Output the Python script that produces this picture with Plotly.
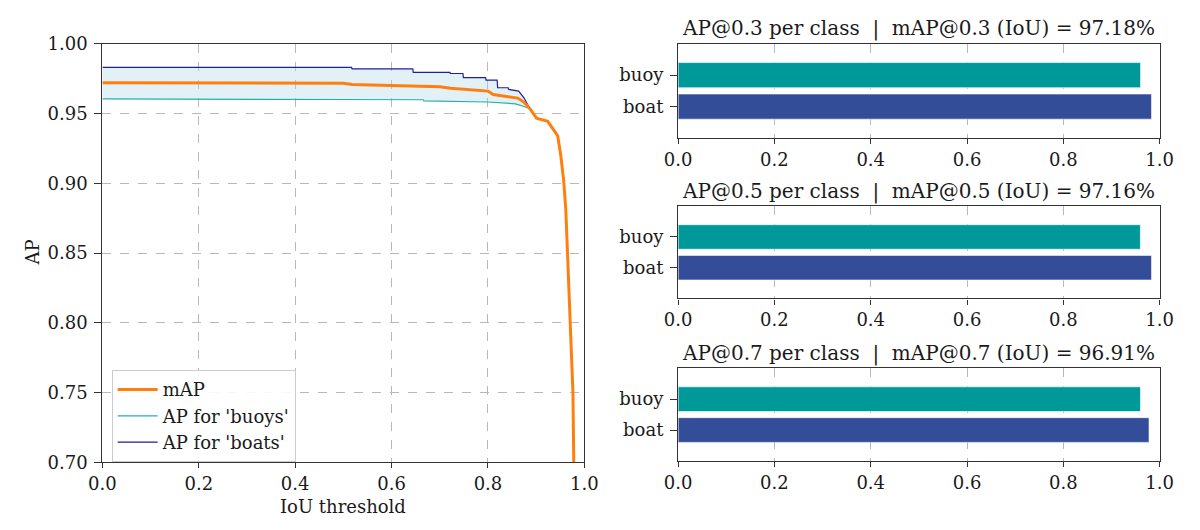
import plotly.graph_objects as go

# ---- AP vs IoU threshold curves ----
iou_boats = [0.0, 0.517, 0.518, 0.644, 0.645, 0.721, 0.722, 0.748, 0.749, 0.795, 0.796,
             0.819, 0.820, 0.842, 0.843, 0.8636, 0.875, 0.887, 0.9007, 0.9176, 0.924,
             0.938, 0.9446, 0.951, 0.957, 0.9615, 0.965, 0.9716, 0.9763, 0.978, 0.985, 1.0]
ap_boats = [0.9830, 0.9830, 0.9819, 0.9819, 0.9794, 0.9794, 0.9786, 0.9786, 0.9757, 0.9757, 0.9739,
            0.9739, 0.9684, 0.9684, 0.9672, 0.9660, 0.9610, 0.9534, 0.9466, 0.9450, 0.9443,
            0.9374, 0.9340, 0.9200, 0.9020, 0.8810, 0.8500, 0.8000, 0.7500, 0.7000, 0.5500, 0.0]

iou_buoys = [0.0, 0.30, 0.50, 0.666, 0.667, 0.80, 0.857, 0.875, 0.887, 0.9007, 0.9176, 0.924,
             0.938, 0.9446, 0.951, 0.957, 0.9615, 0.965, 0.9716, 0.9763, 0.978, 0.985, 1.0]
ap_buoys = [0.9604, 0.9604, 0.9600, 0.9598, 0.9590, 0.9582, 0.9569, 0.9550, 0.9534, 0.9466, 0.9450, 0.9443,
            0.9374, 0.9340, 0.9200, 0.9020, 0.8810, 0.8500, 0.8000, 0.7500, 0.7000, 0.5500, 0.0]

iou_map = [0.0, 0.30, 0.50, 0.518, 0.645, 0.70, 0.7226, 0.757, 0.80, 0.811, 0.85, 0.862, 0.875,
           0.887, 0.9007, 0.9176, 0.924, 0.938, 0.9446, 0.951, 0.957, 0.9615, 0.965, 0.9716,
           0.9763, 0.978, 0.985, 1.0]
map_vals = [0.9720, 0.9718, 0.9716, 0.9708, 0.9693, 0.9691, 0.9680, 0.9672, 0.9660, 0.9635, 0.9620,
            0.9610, 0.9580, 0.9534, 0.9466, 0.9450, 0.9443, 0.9374, 0.9340, 0.9200, 0.9020, 0.8810,
            0.8500, 0.8000, 0.7500, 0.7000, 0.5500, 0.0]

# ---- per-class AP at selected IoU thresholds ----
classes = ["boat", "buoy"]
thresholds = ["0.3", "0.5", "0.7"]
map_at = [97.18, 97.16, 96.91]
ap_boat_at = [0.9832, 0.9832, 0.9780]
ap_buoy_at = [0.9604, 0.9600, 0.9602]

FONT = "DejaVu Serif"
FS = 18
TXT = "#1a1a1a"
SPINE = "#333333"
GRID = "#b8b8b8"
ORANGE = "#ff7f0e"
TEAL_LINE = "#20b2aa"
NAVY_LINE = "#1f1f9a"
BUOY_BAR = "#009999"
BOAT_BAR = "#334d99"
NB = "\u00a0"

fig = go.Figure()

# shaded band between the two class curves
fig.add_trace(go.Scatter(x=iou_buoys, y=ap_buoys, mode="lines", line=dict(width=0),
                         hoverinfo="skip", showlegend=False, xaxis="x", yaxis="y"))
fig.add_trace(go.Scatter(x=iou_boats, y=ap_boats, mode="lines", line=dict(width=0),
                         fill="tonexty", fillcolor="rgba(173,216,230,0.35)",
                         hoverinfo="skip", showlegend=False, xaxis="x", yaxis="y"))

fig.add_trace(go.Scatter(x=iou_buoys, y=ap_buoys, mode="lines", name="AP for 'buoys'",
                         line=dict(color=TEAL_LINE, width=1.2), legendrank=2,
                         xaxis="x", yaxis="y"))
fig.add_trace(go.Scatter(x=iou_boats, y=ap_boats, mode="lines", name="AP for 'boats'",
                         line=dict(color=NAVY_LINE, width=1.2), legendrank=3,
                         xaxis="x", yaxis="y"))
fig.add_trace(go.Scatter(x=iou_map, y=map_vals, mode="lines", name="mAP",
                         line=dict(color=ORANGE, width=3), legendrank=1,
                         xaxis="x", yaxis="y"))

# bar subplots
bar_dom_x = [680 / 1200, 1173 / 1200]
bar_dom_y = [[1 - 132.3 / 530, 1 - 34 / 530],
             [1 - 299.3 / 530, 1 - 203.3 / 530],
             [1 - 468.5 / 530, 1 - 372 / 530]]
title_y = [18.5, 188, 357]

spine_style = dict(showline=True, linecolor=SPINE, linewidth=1.2, mirror=True,
                   ticks="outside", tickcolor=SPINE, zeroline=False,
                   tickfont=dict(family=FONT, size=FS, color=TXT))
x_ticks = dict(ticklen=5, ticklabelstandoff=0, **spine_style)
y_ticks = dict(ticklen=7, ticklabelstandoff=3, **spine_style)

layout = dict(
    width=1200, height=530,
    margin=dict(l=0, r=0, t=0, b=0),
    paper_bgcolor="white", plot_bgcolor="white",
    font=dict(family=FONT, size=FS, color=TXT),
    xaxis=dict(domain=[90.5 / 1200, 584 / 1200], range=[0, 1], tickvals=[0, 0.2, 0.4, 0.6, 0.8, 1.0],
               ticktext=["0.0", "0.2", "0.4", "0.6", "0.8", "1.0"], showgrid=True,
               gridcolor=GRID, griddash="dash", gridwidth=1, anchor="y", **x_ticks),
    yaxis=dict(domain=[1 - 470 / 530, 1 - 34 / 530], range=[0.70, 1.00],
               tickvals=[0.70, 0.75, 0.80, 0.85, 0.90, 0.95, 1.00],
               ticktext=["0.70", "0.75", "0.80", "0.85", "0.90", "0.95", "1.00"],
               showgrid=True, gridcolor=GRID, griddash="dash", gridwidth=1, anchor="x",
               **y_ticks),
    legend=dict(x=100 / 1200, y=1 - 374 / 530, xanchor="left", yanchor="top",
                traceorder="normal",
                bgcolor="rgba(255,255,255,0.9)", bordercolor="#cccccc", borderwidth=1,
                font=dict(family=FONT, size=18, color=TXT), tracegroupgap=0,
                itemwidth=40),
    annotations=[],
    showlegend=True,
)

for i, thr in enumerate(thresholds):
    xa = f"x{i + 2}"
    ya = f"y{i + 2}"
    fig.add_trace(go.Bar(
        x=[ap_boat_at[i], ap_buoy_at[i]], y=classes, orientation="h", width=0.8,
        marker=dict(color=[BOAT_BAR, BUOY_BAR], line=dict(color="rgba(255,255,255,0.6)", width=1)),
        showlegend=False, xaxis=xa, yaxis=ya))
    layout[f"xaxis{i + 2}"] = dict(domain=bar_dom_x, range=[0, 1],
                                   tickvals=[0, 0.2, 0.4, 0.6, 0.8, 1.0],
                                   ticktext=["0.0", "0.2", "0.4", "0.6", "0.8", "1.0"],
                                   showgrid=True, gridcolor=GRID, griddash="dash", gridwidth=1,
                                   anchor=ya, **x_ticks)
    layout[f"yaxis{i + 2}"] = dict(domain=bar_dom_y[i], range=[-1, 2], type="category",
                                   categoryorder="array", categoryarray=classes,
                                   showgrid=False, anchor=xa, **y_ticks)
    layout["annotations"].append(dict(
        text=f"AP@{thr} per class{NB}{NB}|{NB}{NB}mAP@{thr} (IoU) = {map_at[i]:.2f}%",
        x=(bar_dom_x[0] + bar_dom_x[1]) / 2, y=1 - title_y[i] / 530,
        xref="paper", yref="paper", xanchor="center", yanchor="middle",
        showarrow=False, font=dict(family=FONT, size=20, color=TXT)))

layout["annotations"].append(dict(text="AP", x=18 / 1200, y=1 - 252 / 530, xref="paper", yref="paper",
                                  textangle=-90, showarrow=False, xanchor="center", yanchor="middle",
                                  font=dict(family=FONT, size=FS, color=TXT)))
layout["annotations"].append(dict(text="IoU threshold", x=337 / 1200, y=1 - 516 / 530,
                                  xref="paper", yref="paper", showarrow=False,
                                  xanchor="center", yanchor="middle",
                                  font=dict(family=FONT, size=FS, color=TXT)))

fig.update_layout(**layout)
fig.write_html("out.html")
